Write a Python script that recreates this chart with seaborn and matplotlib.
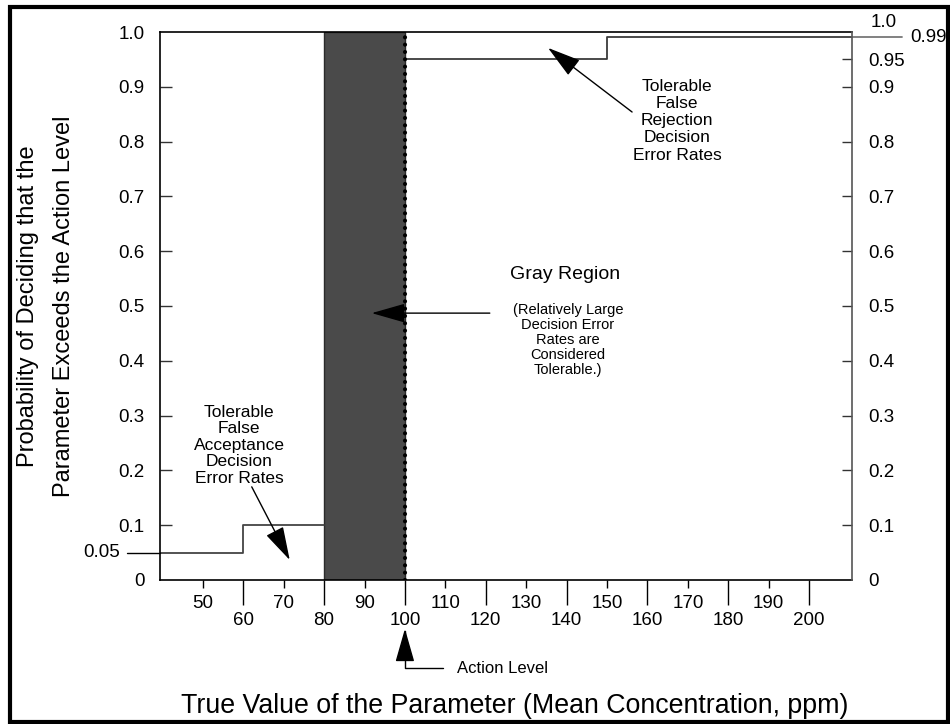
import numpy as np
import pandas as pd
import seaborn as sns
import matplotlib.pyplot as plt
from matplotlib.patches import Rectangle

# axis range (ppm)
x_min, x_max = 39.4, 210.6

# gray region and action level
gray_lo, gray_hi = 80, 100
action_level = 100

# tolerable false acceptance decision error rates (below action level)
fa_x = [x_min, 60, 80]
fa_y = [0.05, 0.10, 0.10]

# tolerable false rejection decision error rates (above action level)
fr_x = [100, 150, x_max]
fr_y = [0.95, 0.99, 0.99]

# tick values
x_major = [60, 80, 100, 120, 140, 160, 180, 200]
x_minor = [50, 70, 90, 110, 130, 150, 170, 190]
y_left = [0.1, 0.2, 0.3, 0.4, 0.5, 0.6, 0.7, 0.8, 0.9]
y_right = [0.1, 0.2, 0.3, 0.4, 0.5, 0.6, 0.7, 0.8, 0.9, 0.95]

sns.set_theme(style='white')
plt.rcParams['font.family'] = ['Liberation Sans', 'DejaVu Sans']
plt.rcParams['text.color'] = 'black'
plt.rcParams['axes.labelcolor'] = 'black'
plt.rcParams['xtick.color'] = 'black'
plt.rcParams['ytick.color'] = 'black'

fig = plt.figure(figsize=(9.5, 7.24), dpi=100)
ax = fig.add_axes([0.1684, 0.1989, 0.7284, 0.7569])
ax.set_xlim(x_min, x_max)
ax.set_ylim(0, 1)

# gray region + action level
ax.axvspan(gray_lo, gray_hi, facecolor='#4a4a4a', edgecolor='#2b2b2b', lw=1, zorder=1)
sns.lineplot(x=fa_x, y=fa_y, drawstyle='steps-post', color='#444444', lw=1.3, ax=ax, zorder=2)
sns.lineplot(x=fr_x, y=fr_y, drawstyle='steps-post', color='#3a3a3a', lw=1.3, ax=ax, zorder=2)
ax.axvline(action_level, color='black', lw=3, ls=(0, (0.01, 1.75)),
           dash_capstyle='round', zorder=3)

for s in ax.spines.values():
    s.set_visible(True)
    s.set_color('black')
    s.set_linewidth(1.2)
ax.spines['right'].set_visible(False)

# x ticks - two rows of labels
ax.set_xticks(x_major, labels=[str(v) for v in x_major])
ax.set_xticks(x_minor, labels=[str(v) for v in x_minor], minor=True)
ax.tick_params(axis='x', which='major', direction='out', length=18, width=1,
               pad=5, labelsize=13.5, bottom=True)
ax.tick_params(axis='x', which='minor', direction='out', length=5.8, width=1,
               pad=5, labelsize=13.5, bottom=True)

# left y ticks
ax.set_yticks(y_left, labels=[f'{v:.1f}' for v in y_left])
ax.set_yticks([0, 1.0], labels=['0', '1.0'], minor=True)
ax.tick_params(axis='y', which='major', direction='in', length=8.6, width=1,
               pad=11, labelsize=13.5, left=True, color='#333333')
ax.tick_params(axis='y', which='minor', length=0, pad=11, labelsize=13.5, left=True)

ytr = ax.get_yaxis_transform()
ax.plot([-0.048, 0], [fa_y[0], fa_y[0]], transform=ytr, color='black', lw=1, clip_on=False)
ax.text(-0.058, fa_y[0], '0.05', transform=ytr, ha='right', va='center', fontsize=13.5)

# right y axis
ax2 = ax.twinx()
ax2.set_ylim(0, 1)
ax2.set_yticks(y_right, labels=[f'{v:g}' for v in y_right])
ax2.set_yticks([0], labels=['0'], minor=True)
ax2.tick_params(axis='y', which='major', direction='in', length=7.5, width=1,
                pad=12, labelsize=13.5, right=True, left=False, color='#333333')
ax2.tick_params(axis='y', which='minor', length=0, pad=12, labelsize=13.5, right=True)
for side in ['left', 'top', 'bottom']:
    ax2.spines[side].set_visible(False)
ax2.spines['right'].set_color('#555555')
ax2.spines['right'].set_linewidth(1.2)

rtr = ax2.get_yaxis_transform()
ax2.plot([1, 1.0723], [fr_y[-1], fr_y[-1]], transform=rtr, color='#777777', lw=1.3, clip_on=False)
ax2.text(1.0275, 1.018, '1.0', transform=rtr, ha='left', va='center', fontsize=13.5)
ax2.text(1.0838, fr_y[-1], '0.99', transform=rtr, ha='left', va='center', fontsize=13.5)

# annotations
arrow_kw = dict(arrowstyle='-|>,head_length=1.05,head_width=0.3', color='black',
                lw=1, shrinkA=0, shrinkB=0, mutation_scale=20)

ax.text(59.0, 0.246, 'Tolerable\nFalse\nAcceptance\nDecision\nError Rates',
        ha='center', va='center', fontsize=12.5, linespacing=1.13)
ax.annotate('', xy=(71.5, 0.0365), xytext=(62.1, 0.170), arrowprops=arrow_kw)

ax.text(167.3, 0.838, 'Tolerable\nFalse\nRejection\nDecision\nError Rates',
        ha='center', va='center', fontsize=12.5, linespacing=1.18)
ax.annotate('', xy=(135.4, 0.971), xytext=(156.2, 0.854), arrowprops=arrow_kw)

ax.text(139.6, 0.558, 'Gray Region', ha='center', va='center', fontsize=14)
ax.text(140.3, 0.438, '(Relatively Large\nDecision Error\nRates are\nConsidered\nTolerable.)',
        ha='center', va='center', fontsize=10.5, linespacing=1.08)
ax.annotate('', xy=(91.8, 0.487), xytext=(121.0, 0.487), arrowprops=arrow_kw, zorder=4)

ax.annotate('Action Level', xy=(action_level, -0.089), xytext=(112.9, -0.161),
            ha='left', va='center', fontsize=12, annotation_clip=False,
            arrowprops=dict(arrowstyle='-|>,head_length=1.05,head_width=0.3',
                            connectionstyle='angle,angleA=0,angleB=90,rad=0',
                            color='black', lw=1, shrinkA=8, shrinkB=0, mutation_scale=20))

ax.set_xlabel('True Value of the Parameter (Mean Concentration, ppm)', fontsize=19.3)
ax.xaxis.set_label_coords(0.512, -0.206)
ax.set_ylabel('Probability of Deciding that the\nParameter Exceeds the Action Level',
              fontsize=17, linespacing=1.84)
ax.yaxis.set_label_coords(-0.123, 0.5)

# outer frame
fig.patches.append(Rectangle((0.010, 0.0028), 0.9874, 0.9875, transform=fig.transFigure,
                             fill=False, lw=3, edgecolor='black'))

fig.savefig('out.png', dpi=100)
